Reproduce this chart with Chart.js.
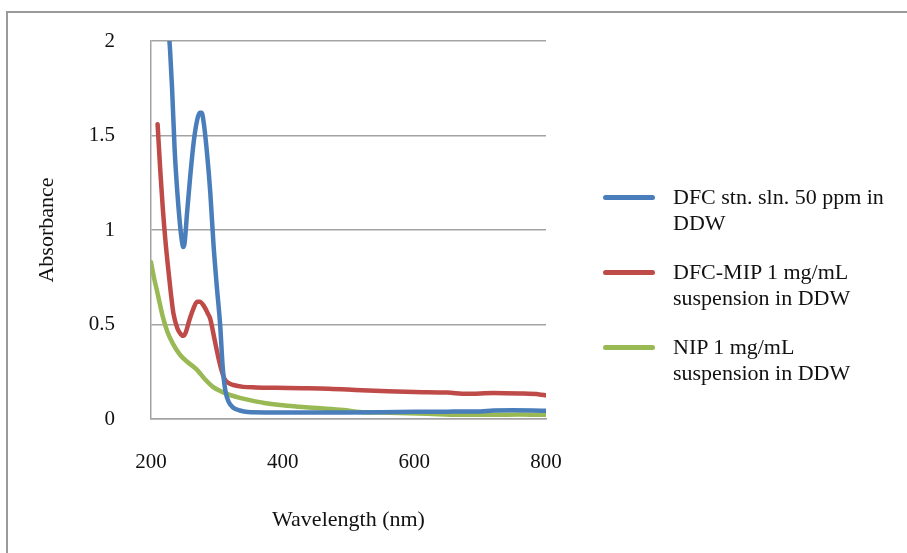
<!DOCTYPE html>
<html lang="en">
  <head>
    <meta charset="UTF-8" />
    <meta name="viewport" content="width=device-width, initial-scale=1.0" />
    <title>Absorbance</title>
    <style>
      html,
      body {
        margin: 0;
        padding: 0;
        background: #ffffff;
      }
      .frame {
        position: absolute;
        left: 6px;
        top: 11px;
        width: 1000px;
        height: 1000px;
        border-left: 2px solid #9a9a9a;
        border-top: 2px solid #9a9a9a;
      }
      .chart-box {
        position: absolute;
        left: 0;
        top: 0;
        width: 907px;
        height: 553px;
      }
      .legend {
        position: absolute;
        left: 603px;
        top: 184px;
        font-family: "Liberation Serif", "Times New Roman", serif;
        font-size: 22px;
        line-height: 26px;
        color: #111;
      }
      .legend-item {
        position: relative;
        height: 75px;
      }
      .legend-line {
        position: absolute;
        left: 0;
        top: 11px;
        width: 52px;
        height: 5px;
        border-radius: 2.5px;
      }
      .legend-text {
        position: absolute;
        left: 70px;
        top: 0;
        white-space: nowrap;
      }
    </style>
  </head>
  <body>
    <div class="frame"></div>
    <div class="chart-box">
      <canvas id="absorbanceChart"></canvas>
    </div>
    <div class="legend" id="legend"></div>

    <script src="https://cdn.jsdelivr.net/npm/chart.js"></script>
    <script>
      //! Data
      const seriesLabels = [
        ["DFC stn. sln. 50 ppm in", "DDW"],
        ["DFC-MIP 1 mg/mL", "suspension in DDW"],
        ["NIP 1 mg/mL", "suspension in DDW"],
      ];
      const seriesColors = ["#4a7ebb", "#be4b48", "#98b954"];

      const dfcWavelength = [
        224, 226, 229, 232, 236, 240, 244, 247, 249, 251, 255, 260, 265, 270,
        274, 277, 280, 285, 290, 295, 300, 305, 309, 313, 318, 325, 335, 347,
        375, 400, 450, 500, 550, 600, 650, 700, 720, 750, 780, 800,
      ];
      const dfcAbsorbance = [
        2.25, 2.1, 1.95, 1.75, 1.42, 1.2, 1.03, 0.94, 0.91, 0.93, 1.1, 1.3,
        1.47, 1.58, 1.62, 1.62, 1.57, 1.41, 1.2, 0.92, 0.7, 0.5, 0.27, 0.15,
        0.09, 0.06, 0.045, 0.037, 0.035, 0.035, 0.035, 0.035, 0.036, 0.038,
        0.039, 0.04, 0.045, 0.046, 0.045, 0.043,
      ];

      const mipWavelength = [
        210, 214, 218, 222, 226, 230, 234, 240, 245, 249, 253, 258, 264, 270,
        274, 280, 286, 290, 296, 302, 307, 312, 318, 325, 340, 360, 390, 430,
        470, 520, 560, 600, 650, 680, 720, 760, 790, 800,
      ];
      const mipAbsorbance = [
        1.56, 1.32, 1.11, 0.94, 0.8, 0.67, 0.56, 0.48, 0.45, 0.44, 0.46, 0.52,
        0.58, 0.62, 0.62, 0.6, 0.56, 0.53, 0.43, 0.33, 0.26, 0.21, 0.19, 0.18,
        0.17, 0.167, 0.165, 0.163, 0.16, 0.152, 0.147, 0.143, 0.14, 0.133,
        0.138, 0.135, 0.13, 0.125,
      ];

      const nipWavelength = [
        200, 205, 209, 214, 218, 225, 233, 244, 256, 270, 282, 294, 307, 320,
        335, 350, 372, 396, 425, 452, 492, 517, 550, 578, 620, 669, 720, 760,
        800,
      ];
      const nipAbsorbance = [
        0.83, 0.74, 0.68, 0.6, 0.54, 0.46, 0.4, 0.34, 0.3, 0.26, 0.21, 0.17,
        0.145, 0.127, 0.112, 0.1, 0.085, 0.074, 0.065, 0.058, 0.048, 0.037,
        0.034, 0.032, 0.028, 0.022, 0.022, 0.024, 0.022,
      ];

      const xTicks = [200, 400, 600, 800];
      const yTicks = [0, 0.5, 1, 1.5, 2];

      const toPoints = (xs, ys) => xs.map((x, i) => ({ x: x, y: ys[i] }));
      const seriesData = [
        toPoints(dfcWavelength, dfcAbsorbance),
        toPoints(mipWavelength, mipAbsorbance),
        toPoints(nipWavelength, nipAbsorbance),
      ];

      const serif = "'Liberation Serif', 'Times New Roman', serif";
      const gridColor = "#a3a3a3";

      //! Spectra chart
      const ctx = document.getElementById("absorbanceChart").getContext("2d");
      const absorbanceChart = new Chart(ctx, {
        type: "line",
        data: {
          datasets: seriesData.map((points, i) => ({
            label: seriesLabels[i].join(" "),
            data: points,
            borderColor: seriesColors[i],
            backgroundColor: seriesColors[i],
            borderWidth: 4.5,
            borderCapStyle: "round",
            borderJoinStyle: "round",
            pointRadius: 0,
            cubicInterpolationMode: "monotone",
            fill: false,
          })),
        },
        options: {
          responsive: true,
          maintainAspectRatio: false,
          animation: false,
          layout: {
            autoPadding: false,
            padding: { top: 41, right: 361, bottom: 0, left: 0 },
          },
          plugins: {
            legend: { display: false },
            tooltip: { enabled: false },
          },
          scales: {
            x: {
              type: "linear",
              min: xTicks[0],
              max: xTicks[xTicks.length - 1],
              afterFit: (scale) => {
                scale.height = 134;
                scale.paddingLeft = 0;
                scale.paddingRight = 0;
              },
              afterBuildTicks: (scale) => {
                scale.ticks = xTicks.map((v) => ({ value: v }));
              },
              grid: { display: false, drawTicks: false },
              border: { display: true, color: gridColor, width: 1.5 },
              ticks: {
                padding: 31,
                color: "#111",
                font: { family: serif, size: 21 },
              },
              title: {
                display: true,
                text: "Wavelength (nm)",
                color: "#111",
                padding: { top: 0, bottom: 20 },
                font: { family: serif, size: 22 },
              },
            },
            y: {
              min: yTicks[0],
              max: yTicks[yTicks.length - 1],
              afterFit: (scale) => {
                // labels sit far from the axis; keep that gap out of the top padding
                scale.width = 151;
                scale.paddingTop = 0;
                scale.paddingBottom = 0;
              },
              afterBuildTicks: (scale) => {
                scale.ticks = yTicks.map((v) => ({ value: v }));
              },
              grid: { color: gridColor, lineWidth: 1.5, drawTicks: false },
              border: { display: true, color: gridColor, width: 1.5 },
              ticks: {
                padding: 36,
                color: "#111",
                font: { family: serif, size: 21 },
                callback: (value) => String(value),
              },
              title: {
                display: true,
                text: "Absorbance",
                color: "#111",
                padding: { top: 34, bottom: 0 },
                font: { family: serif, size: 22 },
              },
            },
          },
        },
      });

      //! Legend with wrapped labels
      const legendEl = document.getElementById("legend");
      absorbanceChart.data.datasets.forEach((ds, i) => {
        const item = document.createElement("div");
        item.className = "legend-item";
        const line = document.createElement("div");
        line.className = "legend-line";
        line.style.background = ds.borderColor;
        const text = document.createElement("div");
        text.className = "legend-text";
        text.innerHTML = seriesLabels[i].join("<br />");
        item.appendChild(line);
        item.appendChild(text);
        legendEl.appendChild(item);
      });
    </script>
  </body>
</html>
